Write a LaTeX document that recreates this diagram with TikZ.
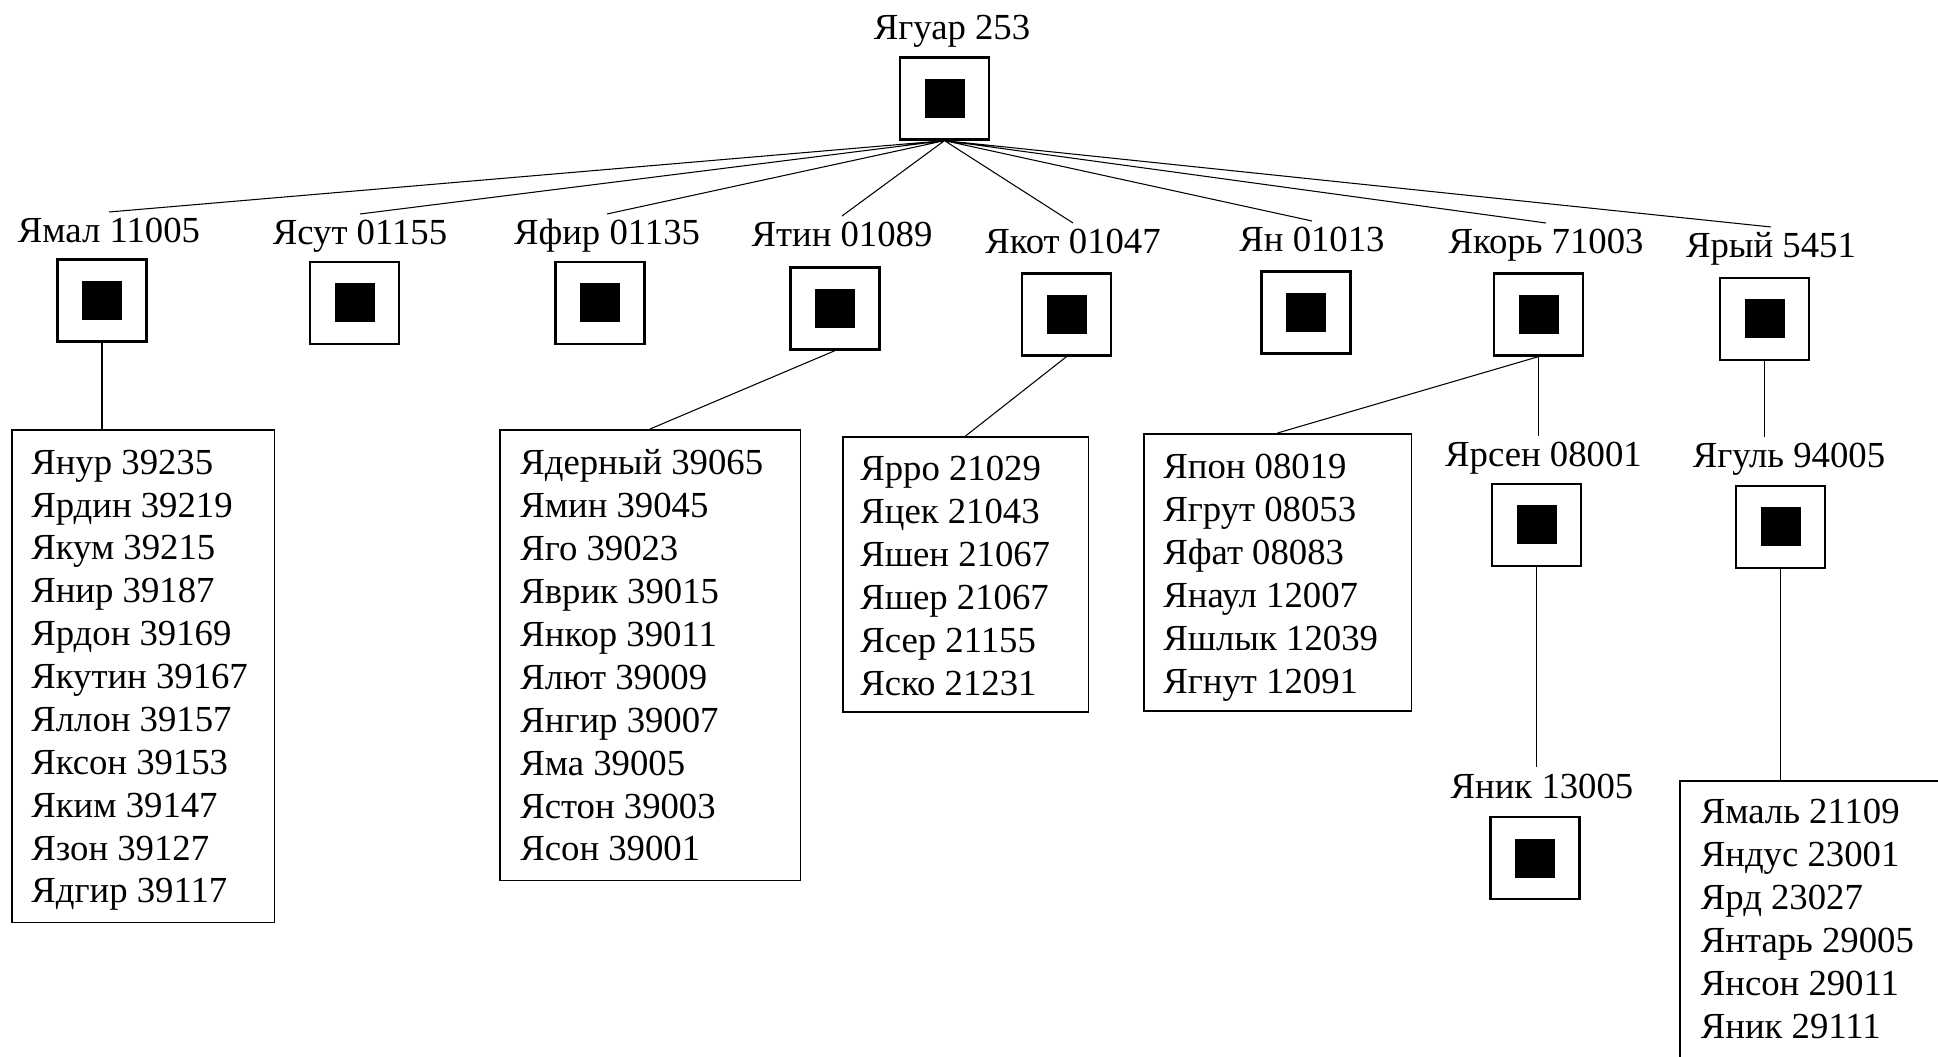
\documentclass[tikz,border=0pt]{standalone}
\usepackage{fontspec}
\setmainfont{Liberation Serif}

\tikzset{
  every node/.style={font=\fontsize{20.9}{24.4}\selectfont},
  lbl/.style={inner sep=0pt, outer sep=0.12cm, text height=0.5cm, text depth=0.12cm, anchor=base},
  sqbox/.style={draw, line width=1.3pt, minimum width=1.78cm, minimum height=1.64cm, inner sep=0pt,
    path picture={\fill[black] ([shift={(-0.4,-0.39)}]path picture bounding box.center) rectangle ([shift={(0.4,0.39)}]path picture bounding box.center);}},
  listbox/.style={draw, line width=0.9pt, anchor=north west, inner sep=0pt},
  items/.style={anchor=north west, inner sep=0pt, align=left},
  link/.style={line width=0.6pt}
}

\begin{document}
\begin{tikzpicture}
\useasboundingbox (0,0) rectangle (38.76,21.12);
\clip (0,0) rectangle (38.76,21.12);

%root
\node[lbl] (jaguar-t) at (19.04,20.32) {Ягуар 253};
\node[sqbox] (jaguar) at (18.89,19.15) {};

%first row
\node[lbl] (jamal-t) at (2.18,16.26) {Ямал 11005};
\node[sqbox] (jamal) at (2.04,15.11) {};
\node[lbl] (jasut-t) at (7.20,16.22) {Ясут 01155};
\node[sqbox] (jasut) at (7.09,15.06) {};
\node[lbl] (jafir-t) at (12.14,16.22) {Яфир 01135};
\node[sqbox] (jafir) at (12.00,15.06) {};
\node[lbl] (jatin-t) at (16.84,16.18) {Ятин 01089};
\node[sqbox] (jatin) at (16.70,14.95) {};
\node[lbl] (jakot-t) at (21.46,16.04) {Якот 01047};
\node[sqbox] (jakot) at (21.33,14.83) {};
\node[lbl] (jan-t) at (26.24,16.08) {Ян 01013};
\node[sqbox] (jan) at (26.12,14.87) {};
\node[lbl] (jakor-t) at (30.92,16.04) {Якорь 71003};
\node[sqbox] (jakor) at (30.77,14.83) {};
\node[lbl] (jaryj-t) at (35.42,15.96) {Ярый 5451};
\node[sqbox] (jaryj) at (35.29,14.74) {};

%second row
\node[lbl] (jarsen-t) at (30.87,11.78) {Ярсен 08001};
\node[sqbox] (jarsen) at (30.73,10.62) {};
\node[lbl] (jagul-t) at (35.78,11.76) {Ягуль 94005};
\node[sqbox] (jagul) at (35.61,10.58) {};
\node[lbl] (janyk-t) at (30.84,5.16) {Яник 13005};
\node[sqbox] (janyk) at (30.70,3.96) {};

%lists
\node[listbox, minimum width=5.25cm, minimum height=9.85cm] (list1) at (0.22,12.54) {};
\node[items] (list1-t) at (0.62,12.13) {Янур 39235\\Ярдин 39219\\Якум 39215\\Янир 39187\\Ярдон 39169\\Якутин 39167\\Яллон 39157\\Яксон 39153\\Яким 39147\\Язон 39127\\Ядгир 39117};

\node[listbox, minimum width=6.01cm, minimum height=9.01cm] (list2) at (9.98,12.54) {};
\node[items] (list2-t) at (10.40,12.13) {Ядерный 39065\\Ямин 39045\\Яго 39023\\Яврик 39015\\Янкор 39011\\Ялют 39009\\Янгир 39007\\Яма 39005\\Ястон 39003\\Ясон 39001};

\node[listbox, minimum width=4.91cm, minimum height=5.51cm] (list3) at (16.84,12.40) {};
\node[items] (list3-t) at (17.20,12.00) {Ярро 21029\\Яцек 21043\\Яшен 21067\\Яшер 21067\\Ясер 21155\\Яско 21231};

\node[listbox, minimum width=5.35cm, minimum height=5.55cm] (list4) at (22.86,12.46) {};
\node[items] (list4-t) at (23.26,12.04) {Япон 08019\\Ягрут 08053\\Яфат 08083\\Янаул 12007\\Яшлык 12039\\Ягнут 12091};

\node[listbox, minimum width=6cm, minimum height=6cm] (list5) at (33.58,5.52) {};
\node[items] (list5-t) at (34.01,5.14) {Ямаль 21109\\Яндус 23001\\Ярд 23027\\Янтарь 29005\\Янсон 29011\\Яник 29111};

%connectors
\draw[link] (jaguar.south) -- (jamal-t.north) (jaguar.south) -- (jasut-t.north)
  (jaguar.south) -- (jafir-t.north) (jaguar.south) -- (jatin-t.north)
  (jaguar.south) -- (jakot-t.north) (jaguar.south) -- (jan-t.north)
  (jaguar.south) -- (jakor-t.north) (jaguar.south) -- (jaryj-t.north);

\draw[link] (jamal.south) -- (jamal.south |- list1.north);
\draw[link] (jatin.south) -- (list2.north);
\draw[link] (jakot.south) -- (list3.north);
\draw[link] (jakor.south) -- (list4.north);
\draw[link] (jakor.south) -- (jakor.south |- jarsen-t.north);
\draw[link] (jaryj.south) -- (jaryj.south |- jagul-t.north);
\draw[link] (jarsen.south) -- (jarsen.south |- janyk-t.north);
\draw[link] (jagul.south) -- (jagul.south |- list5.north);
\end{tikzpicture}
\end{document}
